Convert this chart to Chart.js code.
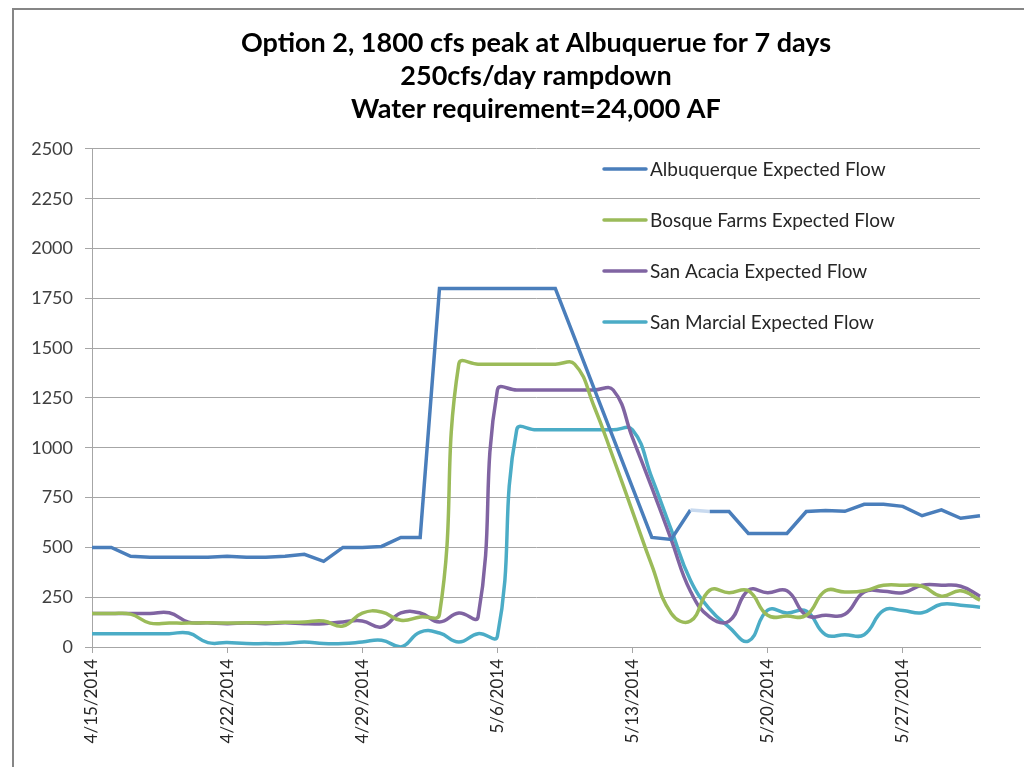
<!DOCTYPE html>
<html>
<head>
<meta charset="utf-8">
<script src="https://cdn.jsdelivr.net/npm/chart.js@4.4.1/dist/chart.umd.min.js"></script>
<style>
  html, body { margin: 0; padding: 0; background: #fff; overflow: hidden; }
  #wrap { width: 1024px; height: 767px; }
</style>
</head>
<body>
<div id="wrap"><canvas id="flowChart" width="1024" height="767"></canvas></div>
<script>
// daily dates, 4/15/2014 - 5/31/2014
var dates = [
  '4/15/2014','4/16/2014','4/17/2014','4/18/2014','4/19/2014','4/20/2014','4/21/2014',
  '4/22/2014','4/23/2014','4/24/2014','4/25/2014','4/26/2014','4/27/2014','4/28/2014',
  '4/29/2014','4/30/2014','5/1/2014','5/2/2014','5/3/2014','5/4/2014','5/5/2014',
  '5/6/2014','5/7/2014','5/8/2014','5/9/2014','5/10/2014','5/11/2014','5/12/2014',
  '5/13/2014','5/14/2014','5/15/2014','5/16/2014','5/17/2014','5/18/2014','5/19/2014',
  '5/20/2014','5/21/2014','5/22/2014','5/23/2014','5/24/2014','5/25/2014','5/26/2014',
  '5/27/2014','5/28/2014','5/29/2014','5/30/2014','5/31/2014'
];

var albuquerque = [500,500,455,450,450,450,450,455,450,450,455,465,430,500,500,505,550,550,
  1800,1800,1800,1800,1800,1800,1800,1550,1300,1050,800,550,540,
  688,680,680,570,570,570,680,685,681,716,716,706,659,688,646,659];

var bosqueFarms = [168,168,165,120,120,120,122,120,122,122,124,126,130,105,170,176,134,151,165,
  1420,1420,1420,1420,1420,1420,1420,1210,950,680,410,170,130,
  285,272,282,159,155,159,282,276,282,310,310,305,255,282,235];

var sanAcacia = [168,168,168,168,172,125,122,117,121,117,122,117,117,126,131,100,171,171,126,171,151,
  1290,1290,1290,1290,1290,1290,1290,1050,800,540,280,150,130,
  285,272,282,159,159,164,276,280,272,310,310,305,255];

var sanMarcial = [67,67,67,67,67,70,22,22,17,17,17,25,17,17,25,34,0,75,70,25,67,54,
  1090,1090,1090,1090,1090,1090,1090,850,590,335,190,100,30,
  185,171,181,62,62,62,183,183,172,215,210,200];

var yTicks = [0,250,500,750,1000,1250,1500,1750,2000,2250,2500];

var titleLines = ['Option 2, 1800 cfs peak at Albuquerue for 7 days', '250cfs/day rampdown', 'Water requirement=24,000 AF'];

var FONT = 'Lato, "Open Sans", sans-serif';
var gridGray = '#a6a6a6';

// frame around the whole chart (cut off at right and bottom like the original)
var framePlugin = {
  id: 'frame',
  beforeDraw: function(chart) {
    var c = chart.ctx;
    c.save();
    c.fillStyle = '#fff';
    c.fillRect(0, 0, chart.width, chart.height);
    c.strokeStyle = '#868686';
    c.lineWidth = 2;
    c.beginPath();
    c.moveTo(13, chart.height + 5);
    c.lineTo(13, 9);
    c.lineTo(chart.width + 5, 9);
    c.stroke();
    c.restore();
  }
};

// legend sitting inside the plot, upper right
var insideLegend = {
  id: 'insideLegend',
  afterDraw: function(chart) {
    var c = chart.ctx, a = chart.chartArea;
    var x0 = a.left + 512, y0 = a.top + 20;
    c.save();
    c.font = '19px ' + FONT;
    c.textBaseline = 'middle';
    chart.data.datasets.forEach(function(ds, i) {
      var y = y0 + i * 51;
      c.strokeStyle = ds.borderColor;
      c.lineWidth = 3.5;
      c.lineCap = 'round';
      c.beginPath();
      c.moveTo(x0, y);
      c.lineTo(x0 + 42, y);
      c.stroke();
      c.fillStyle = '#262626';
      c.fillText(ds.label, x0 + 46, y + 1);
    });
    c.restore();
  }
};

var ctx = document.getElementById('flowChart').getContext('2d');
var chart = new Chart(ctx, {
  type: 'line',
  data: {
    labels: dates,
    datasets: [{
      label: 'Albuquerque Expected Flow',
      data: albuquerque,
      borderColor: '#4a7ebb',
      borderWidth: 3.5,
      tension: 0,
      segment: {
        borderColor: function(s) { return s.p0DataIndex === 31 ? '#c9daef' : undefined; }
      }
    }, {
      label: 'Bosque Farms Expected Flow',
      data: bosqueFarms,
      borderColor: '#9bbb59',
      borderWidth: 3.5,
      tension: 0.45
    }, {
      label: 'San Acacia Expected Flow',
      data: sanAcacia,
      borderColor: '#8064a2',
      borderWidth: 3.5,
      tension: 0.45
    }, {
      label: 'San Marcial Expected Flow',
      data: sanMarcial,
      borderColor: '#4bacc6',
      borderWidth: 3.5,
      tension: 0.45
    }]
  },
  options: {
    responsive: false,
    animation: false,
    elements: { point: { radius: 0 } },
    layout: { padding: { left: 14, right: 44, top: 0, bottom: 0 } },
    plugins: {
      legend: { display: false },
      tooltip: { enabled: false },
      title: {
        display: true,
        fullSize: false,
        text: titleLines,
        color: '#000',
        font: { family: FONT, size: 27, weight: 'bold', lineHeight: 1.222 },
        padding: { top: 27, bottom: 23 }
      }
    },
    scales: {
      x: {
        grid: { drawOnChartArea: false, tickLength: 6, color: gridGray },
        border: { color: gridGray },
        ticks: {
          autoSkip: false,
          minRotation: 90,
          maxRotation: 90,
          padding: 6,
          color: '#262626',
          font: { family: FONT, size: 17 },
          callback: function(v, i) { return i % 7 === 0 ? dates[i] : null; }
        },
        afterFit: function(s) { s.height = 120; }
      },
      y: {
        min: 0,
        max: 2500,
        afterBuildTicks: function(s) { s.ticks = yTicks.map(function(v) { return { value: v }; }); },
        grid: { color: gridGray, tickLength: 7 },
        border: { color: gridGray },
        ticks: {
          padding: 12,
          color: '#404040',
          font: { family: FONT, size: 18 },
          callback: function(v) { return String(v); }
        },
        afterFit: function(s) { s.width = 92 - 14; }
      }
    }
  },
  plugins: [framePlugin, insideLegend]
});
</script>
</body>
</html>
